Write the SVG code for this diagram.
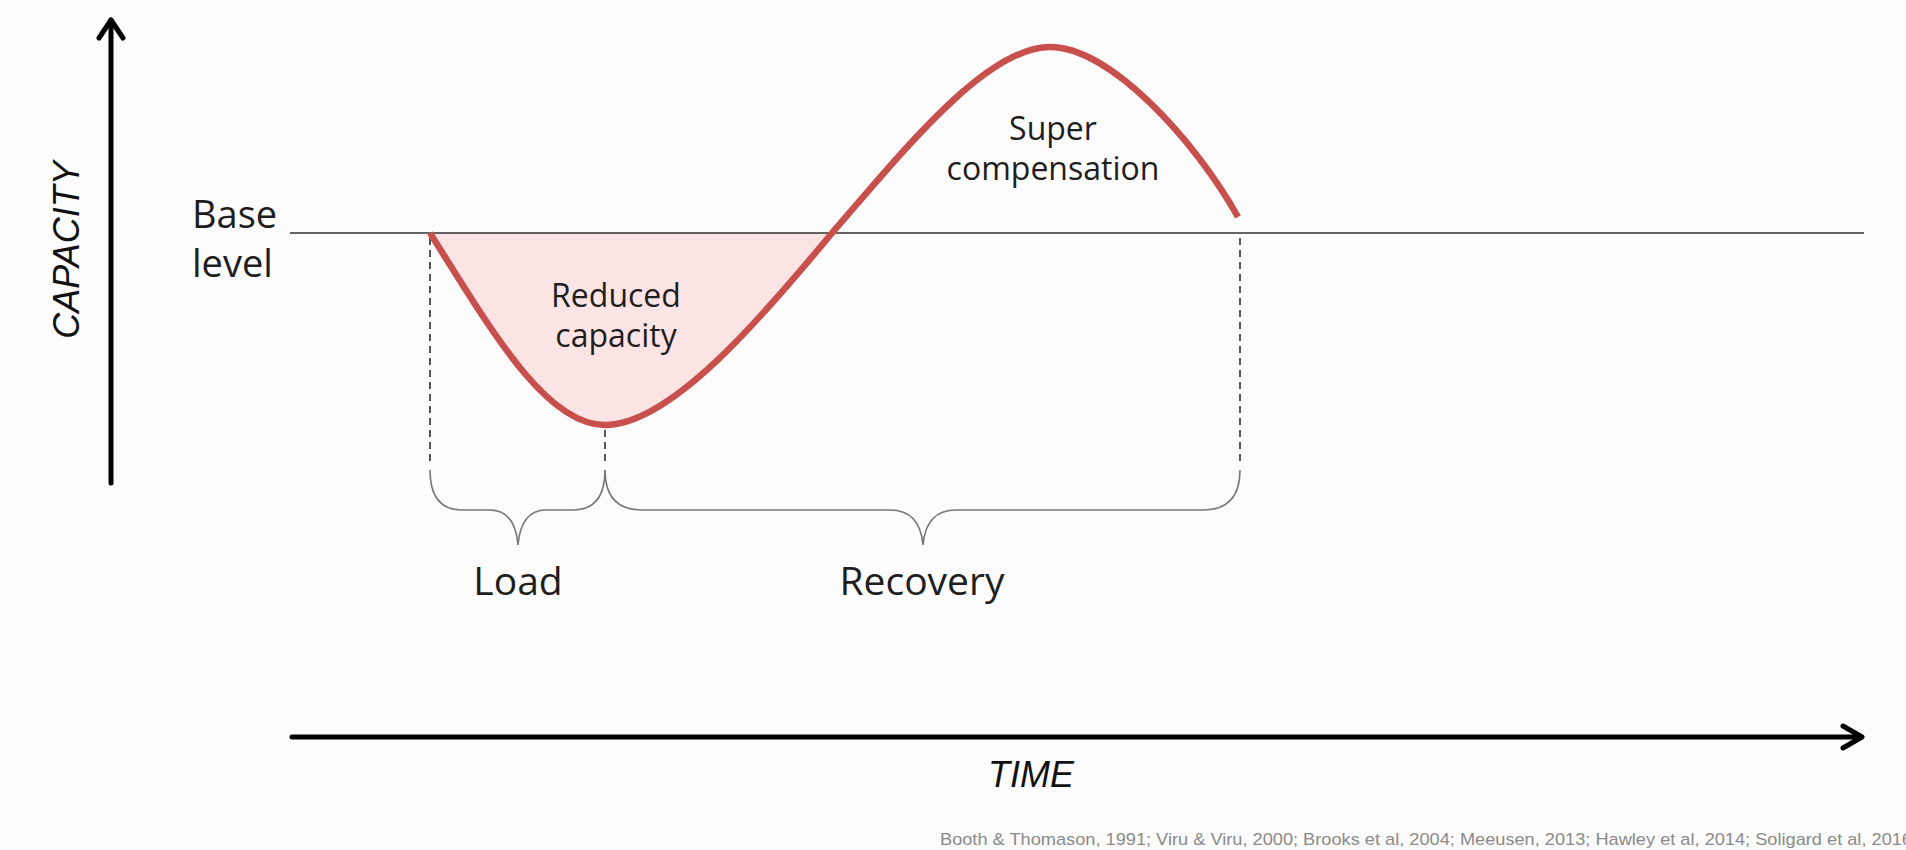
<svg xmlns="http://www.w3.org/2000/svg" width="1906" height="850" viewBox="0 0 1906 850">
<style>
.lbl{font-family:"Open Sans","Noto Sans",sans-serif;fill:#1e1e1e;text-anchor:middle}
.axis{font-family:"Liberation Sans",Arial,sans-serif;font-style:italic;fill:#111;text-anchor:middle;font-size:36px}
.ax{stroke:#000;stroke-width:5;fill:none;stroke-linecap:round;stroke-linejoin:round}
.dash{stroke:#555;stroke-width:2;stroke-dasharray:7 5;fill:none}
.brace{stroke:#777;stroke-width:1.6;fill:none}
.cite{font-family:"Liberation Sans",Arial,sans-serif;fill:#8a8a8a;font-size:17px}
</style>
<rect width="1906" height="850" fill="#fcfcfc"/>
<g id="area">
<path d="M430,233 C490,328 545,425 605,425 C670,425 760,320 832,233 Z" fill="#fde4e4"/>
</g>
<g id="connectors">
<line class="ax" x1="111" y1="483" x2="111" y2="20"/>
<polyline class="ax" points="99,38 111,20 123,38"/>
<line class="ax" x1="292" y1="737" x2="1861" y2="737"/>
<polyline class="ax" points="1843,726 1862,737 1843,748"/>
<line x1="290" y1="233" x2="1864" y2="233" stroke="#333" stroke-width="1.6"/>
<line class="dash" x1="430" y1="238" x2="430" y2="463"/>
<line class="dash" x1="605" y1="430" x2="605" y2="463"/>
<line class="dash" x1="1240" y1="238" x2="1240" y2="463"/>
<path class="brace" d="M430,470 Q430,510 462,510 L490,510 Q515,510 518,545 Q521,510 546,510 L573,510 Q605,510 605,470"/>
<path class="brace" d="M605,470 Q605,510 642,510 L890,510 Q920,510 923,545 Q926,510 956,510 L1203,510 Q1240,510 1240,470"/>
</g>
<g id="curve">
<path d="M430,233 C490,328 545,425 605,425 C670,425 760,320 832,233 C900,155 985,47 1050,47 C1110,47 1195,140 1238,217" fill="none" stroke="#c8504c" stroke-width="6.5" stroke-linecap="butt"/>
</g>
<g id="capacity-label">
<text class="axis" transform="translate(79,250) rotate(-90)">CAPACITY</text>
</g>
<g id="time-label">
<text class="axis" x="1031" y="787">TIME</text>
</g>
<g id="base-level">
<text class="lbl" style="text-anchor:start" font-size="38"><tspan x="192" y="228">Base</tspan><tspan x="192" y="277">level</tspan></text>
</g>
<g id="reduced-capacity">
<text class="lbl" font-size="32"><tspan x="616" y="307">Reduced</tspan><tspan x="616" y="347">capacity</tspan></text>
</g>
<g id="super-compensation">
<text class="lbl" font-size="32"><tspan x="1053" y="140">Super</tspan><tspan x="1053" y="180">compensation</tspan></text>
</g>
<g id="load">
<text class="lbl" font-size="39" x="518" y="595">Load</text>
</g>
<g id="recovery">
<text class="lbl" font-size="39" x="922" y="595">Recovery</text>
</g>
<g id="citation">
<text class="cite" x="940" y="845" textLength="972" lengthAdjust="spacingAndGlyphs">Booth &amp; Thomason, 1991; Viru &amp; Viru, 2000; Brooks et al, 2004; Meeusen, 2013; Hawley et al, 2014; Soligard et al, 2016</text>
</g>
</svg>
